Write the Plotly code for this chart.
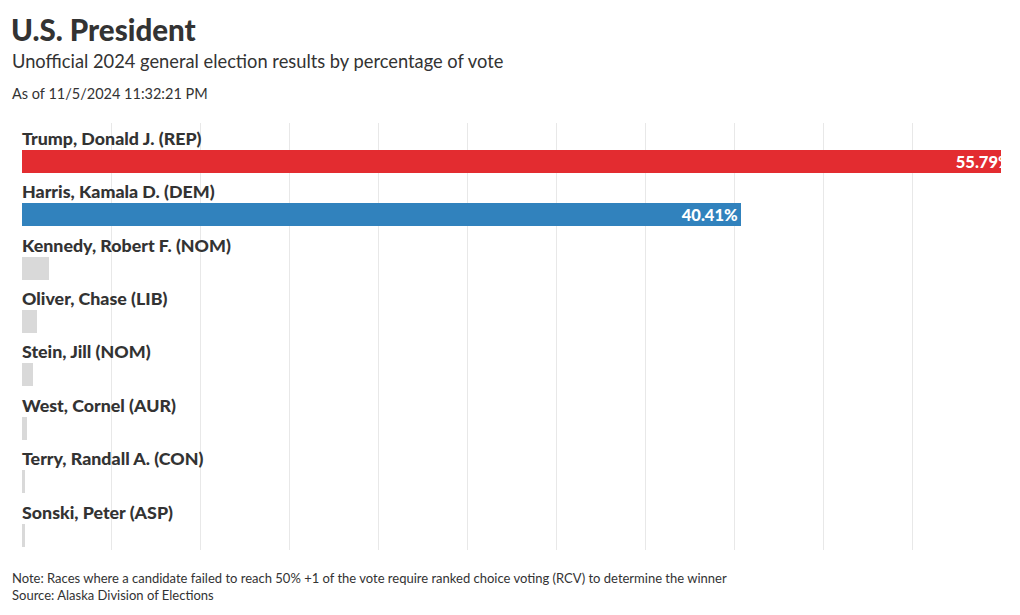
import plotly.graph_objects as go

candidates = [
    "Trump, Donald J. (REP)",
    "Harris, Kamala D. (DEM)",
    "Kennedy, Robert F. (NOM)",
    "Oliver, Chase (LIB)",
    "Stein, Jill (NOM)",
    "West, Cornel (AUR)",
    "Terry, Randall A. (CON)",
    "Sonski, Peter (ASP)",
]
percent = [55.79, 40.41, 1.53, 0.84, 0.62, 0.26, 0.17, 0.16]
value_labels = ["55.79%", "40.41%", "", "", "", "", "", ""]
colors = ["#e32c30", "#3182bd", "#d9d9d9", "#d9d9d9", "#d9d9d9", "#d9d9d9", "#d9d9d9", "#d9d9d9"]

FONT = "Lato"
DARK = "#333333"

idx = list(range(len(candidates)))
bar_y = [i + 0.72 for i in idx]
label_y = [i + 0.28 for i in idx]

fig = go.Figure()
fig.add_trace(go.Bar(
    x=percent,
    y=bar_y,
    orientation="h",
    width=0.43,
    marker=dict(color=colors, line=dict(width=0)),
    text=value_labels,
    textposition="inside",
    insidetextanchor="end",
    textangle=0,
    constraintext="none",
    textfont=dict(family=FONT, size=16.5, color="white", weight=900),
    hoverinfo="skip",
))

for name, ly in zip(candidates, label_y):
    fig.add_annotation(
        x=0, y=ly, xref="x", yref="y", text=name, xshift=-2,
        showarrow=False, xanchor="left", yanchor="middle",
        font=dict(family=FONT, size=17.8, color=DARK, weight=900),
    )

H_PLOT = 427.0
def py(p):
    return (550 - p) / H_PLOT

x_left = -11 / 979.0
fig.add_annotation(x=x_left, y=py(30), xref="paper", yref="paper", text="U.S. President", xshift=-2,
                   showarrow=False, xanchor="left", yanchor="middle",
                   font=dict(family=FONT, size=29.5, color=DARK, weight=900))
fig.add_annotation(x=x_left, y=py(61), xref="paper", yref="paper", xshift=-1,
                   text="Unofficial 2024 general election results by percentage of vote",
                   showarrow=False, xanchor="left", yanchor="middle",
                   font=dict(family=FONT, size=18.3, color=DARK))
fig.add_annotation(x=x_left, y=py(94), xref="paper", yref="paper", xshift=-1,
                   text="As of 11/5/2024 11:32:21 PM",
                   showarrow=False, xanchor="left", yanchor="middle",
                   font=dict(family=FONT, size=14.5, color=DARK))
fig.add_annotation(x=x_left, y=py(578), xref="paper", yref="paper", xshift=-1,
                   text="Note: Races where a candidate failed to reach 50% +1 of the vote require ranked choice voting (RCV) to determine the winner",
                   showarrow=False, xanchor="left", yanchor="middle",
                   font=dict(family=FONT, size=13, color=DARK))
fig.add_annotation(x=x_left, y=py(595), xref="paper", yref="paper", xshift=-1,
                   text="Source: Alaska Division of Elections",
                   showarrow=False, xanchor="left", yanchor="middle",
                   font=dict(family=FONT, size=13, color=DARK))

fig.update_layout(
    width=1020, height=615,
    margin=dict(l=22, r=19, t=123, b=65),
    plot_bgcolor="white", paper_bgcolor="white",
    showlegend=False,
    bargap=0,
    font=dict(family=FONT, color=DARK),
)
fig.update_xaxes(range=[0, 55], dtick=5, tick0=0, showgrid=True, gridcolor="#e8e8e8", gridwidth=1,
                 zeroline=False, showticklabels=False, ticks="", showline=False, fixedrange=True)
fig.update_yaxes(range=[len(candidates), 0], showgrid=False, zeroline=False, showticklabels=False,
                 ticks="", showline=False, fixedrange=True)

fig.write_html("out.html")
